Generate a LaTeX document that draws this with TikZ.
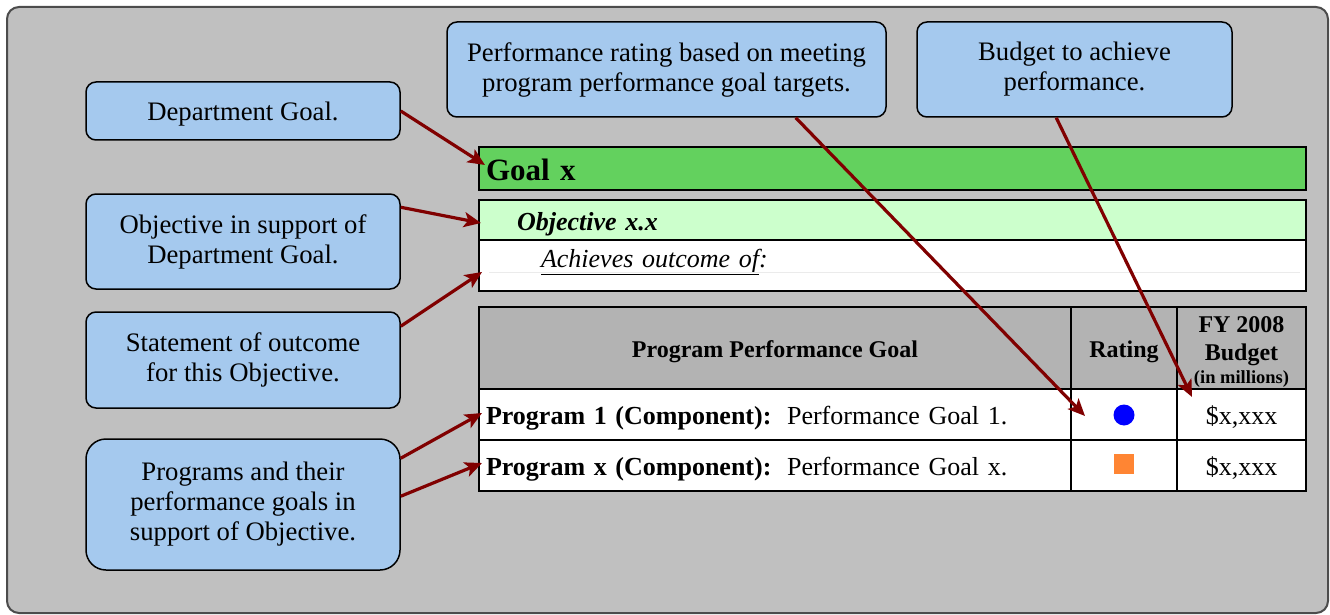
\documentclass[tikz,border=0pt]{standalone}
\usepackage{fontspec}
\setmainfont{Liberation Serif}
\usetikzlibrary{arrows.meta, positioning}

\definecolor{framegray}{HTML}{C0C0C0}
\definecolor{noteblue}{HTML}{A5C9EE}
\definecolor{goalgreen}{HTML}{63D15E}
\definecolor{objgreen}{HTML}{CCFFCC}
\definecolor{headgray}{HTML}{B3B3B3}
\definecolor{arrowred}{HTML}{800000}
\definecolor{rateblue}{HTML}{0000FF}
\definecolor{rateorange}{HTML}{FF8533}

\begin{document}
\begin{tikzpicture}[
	x=1pt, y=-1pt,
	note/.style={rectangle, rounded corners=10pt, draw, line width=1.5pt, fill=noteblue, minimum width=314pt, align=center, inner sep=0pt, font=\fontsize{26.7}{30}\selectfont},
	cell/.style={rectangle, draw, line width=2.5pt, inner sep=0pt, outer sep=0pt, anchor=north west},
	rowcell/.style={cell, fill=white, minimum height=51pt, text height=35pt, text depth=16pt, font=\fontsize{26}{30}\selectfont},
	headcell/.style={cell, fill=headgray, minimum height=82pt, align=center, font=\fontsize{24}{28}\selectfont\bfseries},
	arrow/.style={-{Stealth[length=17pt, width=15pt, inset=4pt]}, line width=3.2pt, arrowred}
]
	\useasboundingbox (0,0) rectangle (1330,615);
	\draw[rounded corners=12pt, line width=2pt, draw=black!70, fill=framegray] (7,7) rectangle (1328,613);

	% Callouts
	\node[note, minimum height=58pt, text height=22pt, text depth=3pt] (deptnote) at (243,111) {Department Goal.};
	\node[note, minimum height=95pt] (objnote) at (243,241.5) {Objective in support of\\Department Goal.};
	\node[note, minimum height=96pt] (outnote) at (243,360) {Statement of outcome\\for this Objective.};
	\node[note, minimum height=131pt, rounded corners=20pt] (prognote) at (243,504.5) {Programs and their\\performance goals in\\support of Objective.};
	\node[note, minimum width=439pt, minimum height=95pt] (ratenote) at (666.5,69.5) {Performance rating based on meeting\\program performance goal targets.};
	\node[note, minimum width=315pt, minimum height=95pt] (budgnote) at (1074.5,69.5) {Budget to achieve\\performance.};

	% Goal and objective
	\node[cell, fill=goalgreen, minimum height=43pt, text height=27pt, text depth=3pt, text width=813pt, inner xsep=7pt, align=left, font=\fontsize{31}{31}\selectfont\bfseries] (goal) at (479,147) {Goal x};
	\node[cell, fill=objgreen, minimum height=40pt, text height=24pt, text depth=4pt, text width=813pt, inner xsep=7pt, align=left, font=\fontsize{26}{30}\selectfont\bfseries\itshape] (objrow) at (479,200) {\hspace*{31pt}Objective x.x};
	\node[cell, fill=white, text width=813pt, inner xsep=7pt, inner ysep=4.5pt, text height=22.5pt, text depth=19.5pt, align=left, font=\fontsize{26}{30}\selectfont\itshape] (outrow) at (479,240) {\hspace*{55pt}\underline{Achieves outcome of}:};
	\draw[black!8, line width=1pt] ([xshift=10pt, yshift=-7pt]outrow.west) -- ([xshift=-6pt, yshift=-7pt]outrow.east);

	% Program table
	\node[headcell, minimum width=592pt, text height=21pt, text depth=3pt] (headgoal) at (479,307) {Program Performance Goal};
	\node[headcell, minimum width=106pt, text height=21pt, text depth=3pt] (headrate) at (headgoal.north east) {Rating};
	\node[headcell, minimum width=129pt] (headbudg) at (headrate.north east) {\rule{0pt}{23pt}FY 2008\\Budget\\[-5pt]{\fontsize{18.5}{20}\selectfont(in millions)}};

	\node[rowcell, minimum width=592pt, text width=578pt, inner xsep=7pt, align=left] (prog1) at (headgoal.south west) {\textbf{Program 1 (Component):}\hspace{0.6em}Performance Goal 1.};
	\node[rowcell, minimum width=106pt] (rate1) at (prog1.north east) {};
	\node[rowcell, minimum width=129pt] (budg1) at (rate1.north east) {\$x,xxx};
	\node[rowcell, minimum width=592pt, text width=578pt, inner xsep=7pt, align=left] (prog2) at (prog1.south west) {\textbf{Program x (Component):}\hspace{0.6em}Performance Goal x.};
	\node[rowcell, minimum width=106pt] (rate2) at (prog2.north east) {};
	\node[rowcell, minimum width=129pt] (budg2) at (rate2.north east) {\$x,xxx};

	% Rating marks
	\node[circle, fill=rateblue, minimum size=21pt, inner sep=0pt] (dot1) at ([yshift=-0.5pt]rate1.center) {};
	\node[rectangle, fill=rateorange, minimum size=19.5pt, inner sep=0pt] (dot2) at ([yshift=1.5pt]rate2.center) {};

	% Arrow tips
	\coordinate (goaltip) at (485,165);
	\coordinate (objtip) at (481,223);
	\coordinate (outtip) at (482,272);
	\coordinate (prog1tip) at (482,413);
	\coordinate (prog2tip) at (482,463);
	\coordinate (ratetip) at (1085,416);
	\coordinate (budgtip) at (1192,397);

	% Arrows
	\draw[arrow] (deptnote.east) -- (goaltip);
	\draw[arrow] ([yshift=-14pt]objnote.north east) -- (objtip);
	\draw[arrow] ([yshift=-15pt]outnote.north east) -- (outtip);
	\draw[arrow] ([yshift=-20pt]prognote.north east) -- (prog1tip);
	\draw[arrow] ([yshift=-58pt]prognote.north east) -- (prog2tip);
	\draw[arrow] ([xshift=-91pt]ratenote.south east) -- (ratetip);
	\draw[arrow] ([xshift=140pt]budgnote.south west) -- (budgtip);
\end{tikzpicture}
\end{document}
